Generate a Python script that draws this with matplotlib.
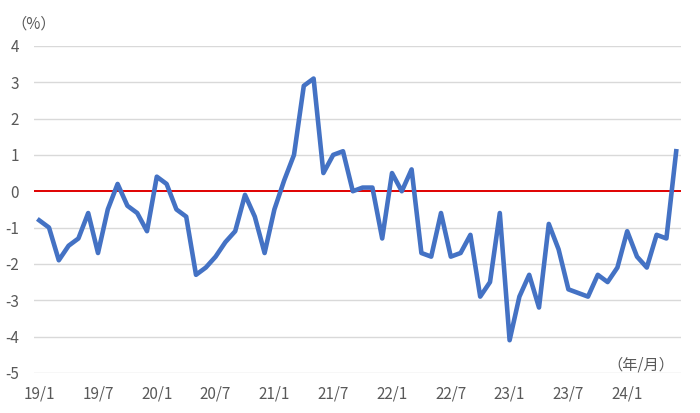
import matplotlib.pyplot as plt

plt.rcParams['font.family'] = ['Noto Sans CJK JP', 'DejaVu Sans']

# monthly values, 19/1 .. 24/6 (%)
values = [
    -0.8, -1.0, -1.9, -1.5, -1.3, -0.6, -1.7, -0.5, 0.2, -0.4, -0.6, -1.1,   # 2019
    0.4, 0.2, -0.5, -0.7, -2.3, -2.1, -1.8, -1.4, -1.1, -0.1, -0.7, -1.7,    # 2020
    -0.5, 0.3, 1.0, 2.9, 3.1, 0.5, 1.0, 1.1, 0.0, 0.1, 0.1, -1.3,            # 2021
    0.5, 0.0, 0.6, -1.7, -1.8, -0.6, -1.8, -1.7, -1.2, -2.9, -2.5, -0.6,     # 2022
    -4.1, -2.9, -2.3, -3.2, -0.9, -1.6, -2.7, -2.8, -2.9, -2.3, -2.5, -2.1,  # 2023
    -1.1, -1.8, -2.1, -1.2, -1.3, 1.1,                                       # 2024
]
tick_labels = ['19/1', '19/7', '20/1', '20/7', '21/1', '21/7',
               '22/1', '22/7', '23/1', '23/7', '24/1']
y_ticks = [4, 3, 2, 1, 0, -1, -2, -3, -4, -5]

fig = plt.figure(figsize=(7, 4.13), dpi=100)
ax = fig.add_axes([0.049, 0.097, 0.924, 0.792])

x = list(range(len(values)))
for t in y_ticks:
    if t != 0:
        ax.axhline(t, color='#d9d9d9', lw=1, zorder=1)
ax.axhline(0, color='#e00000', lw=1.4, zorder=2)
ax.plot(x, values, color='#4472c4', lw=3.3, solid_joinstyle='round', zorder=3)

ax.set_xlim(-0.5, len(values) - 0.5)
ax.set_ylim(-5, 4)
ax.set_yticks(y_ticks)
ax.set_yticklabels([str(t) for t in y_ticks])
ax.set_xticks(range(0, len(values), 6))
ax.set_xticklabels(tick_labels)
ax.tick_params(length=0, labelsize=11, colors='#595959')
ax.tick_params(axis='y', pad=11)
ax.tick_params(axis='x', pad=9)
for s in ax.spines.values():
    s.set_visible(False)

fig.text(0.016, 0.942, '（%）', fontsize=11, color='#595959', va='center')
fig.text(0.868, 0.117, '（年/月）', fontsize=11, color='#595959', va='center')

fig.savefig('out.png', dpi=100)
